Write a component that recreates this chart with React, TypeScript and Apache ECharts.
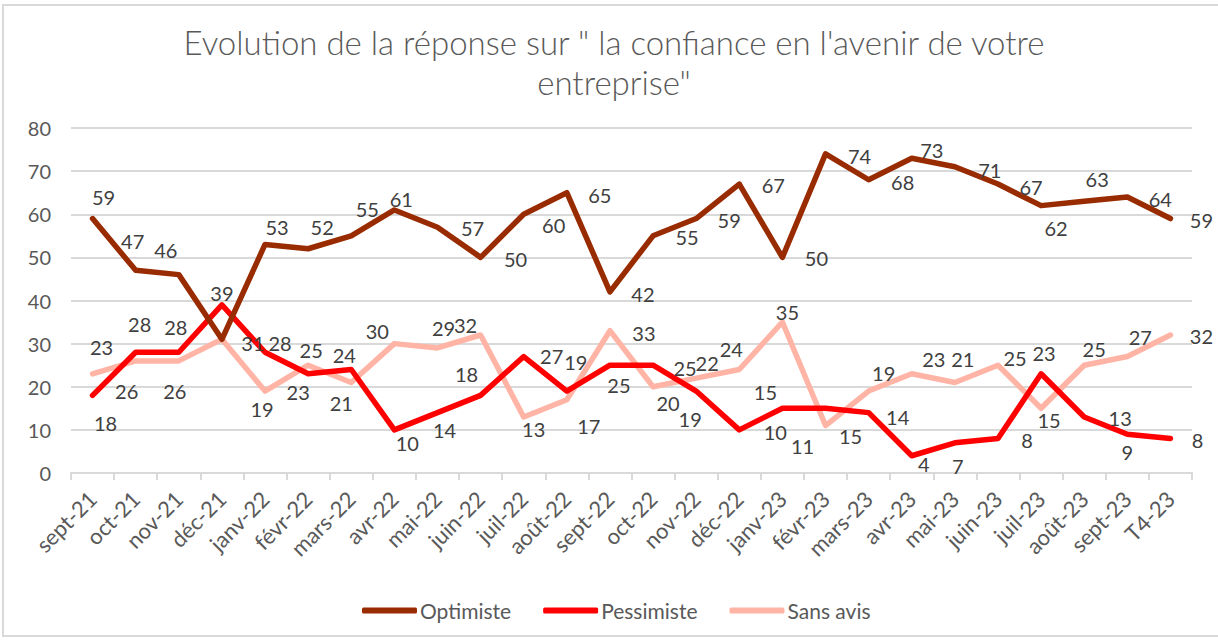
import React, { useEffect, useRef } from "react";
import * as echarts from "echarts";

const categories = [
  "sept-21", "oct-21", "nov-21", "déc-21", "janv-22", "févr-22", "mars-22", "avr-22",
  "mai-22", "juin-22", "juil-22", "août-22", "sept-22", "oct-22", "nov-22", "déc-22",
  "janv-23", "févr-23", "mars-23", "avr-23", "mai-23", "juin-23", "juil-23", "août-23",
  "sept-23", "T4-23",
];

const optimiste = [59, 47, 46, 31, 53, 52, 55, 61, 57, 50, 60, 65, 42, 55, 59, 67, 50, 74, 68, 73, 71, 67, 62, 63, 64, 59];
const pessimiste = [18, 28, 28, 39, 28, 23, 24, 10, 14, 18, 27, 19, 25, 25, 19, 10, 15, 15, 14, 4, 7, 8, 23, 13, 9, 8];
const sansAvis = [23, 26, 26, 31, 19, 25, 21, 30, 29, 32, 13, 17, 33, 20, 22, 24, 35, 11, 19, 23, 21, 25, 15, 25, 27, 32];

const yTicks = { min: 0, max: 80, step: 10 };

const titleText = "Evolution de la réponse sur \" la confiance en l'avenir de votre\nentreprise\"";

// label placement offsets (label centre relative to point), styling only; null = label shared with another series
const optOffsets: (number[] | null)[] = [
  [11, -22], [-3, -29], [-13, -25], [31, 4], [12, -17], [14, -22], [16, -27], [7, -11],
  [35, 1], [35, 2], [30, 11], [33, 2], [33, 2], [34, 1], [33, 1], [34, 1],
  [34, 1], [34, 2], [34, 2], [20, -8], [35, 3], [33, 3], [15, 22], [13, -22],
  [33, 2], [31, 1],
];
const pesOffsets: (number[] | null)[] = [
  [13, 28], [4, -28], [-3, -25], [0, -12], [15, -9], [-10, 18], [-7, -15], [13, 13],
  [7, 17], [-14, -21], [28, -1], [9, -29], [9, 20], [32, 3], [-6, 28], [36, 2],
  [-17, -16], [25, 28], [29, 4], [12, 8], [3, 23], [29, 1], [3, -21], [36, 1],
  [0, 18], [27, 1],
];
const sansOffsets: (number[] | null)[] = [
  [9, -27], [-9, 30], [-4, 30], null, [-3, 18], [3, -15], [-10, 21], [-17, -13],
  [6, -20], [-15, -10], [10, 12], [22, 26], [34, 2], [15, 16], [11, -15], [-8, -21],
  [5, -10], [-23, 20], [15, -18], [22, -15], [8, -23], [17, -7], [8, 12], [10, -16],
  [13, -20], [31, 1],
];

const FONT = "Lato";
const GRAY = "#595959";
const LABEL = "#404040";

function makeData(values: number[], offsets: (number[] | null)[]) {
  return values.map((v, i) => {
    const off = offsets[i];
    return off
      ? { value: v, label: { offset: off } }
      : { value: v, label: { show: false } };
  });
}

function makeSeries(name: string, color: string, values: number[], offsets: (number[] | null)[], z: number) {
  return {
    name,
    type: "line",
    data: makeData(values, offsets),
    symbol: "circle",
    symbolSize: 1,
    showSymbol: true,
    z,
    itemStyle: { color },
    lineStyle: { color, width: 5.5, join: "round", cap: "round" },
    label: {
      show: true,
      position: "inside",
      formatter: "{c}",
      color: LABEL,
      fontSize: 20,
      fontFamily: FONT,
    },
    emphasis: { disabled: true },
  };
}

export default function App() {
  const ref = useRef<HTMLDivElement>(null);
  useEffect(() => {
    if (!ref.current) return;
    const chart = echarts.init(ref.current, undefined, { renderer: "svg" });
    chart.setOption({
      animation: false,
      backgroundColor: "#ffffff",
      textStyle: { fontFamily: FONT },
      graphic: [
        {
          type: "rect",
          shape: { x: 3, y: 5, width: 1240, height: 631 },
          style: { fill: "none", stroke: "#d9d9d9", lineWidth: 2 },
          silent: true,
        },
        {
          type: "text",
          x: 614,
          y: 62,
          style: {
            text: titleText,
            fontSize: 33,
            lineHeight: 40,
            fontWeight: 300,
            fontFamily: FONT,
            fill: GRAY,
            align: "center",
            verticalAlign: "middle",
          },
        },
      ],
      grid: { left: 71, right: 26, top: 128, bottom: 167, containLabel: false },
      legend: {
        left: 357,
        top: 595,
        itemWidth: 55,
        itemHeight: 6,
        itemGap: 32,
        icon: "roundRect",
        textStyle: { color: GRAY, fontSize: 21, fontFamily: FONT, padding: [0, 0, 0, -2] },
        data: ["Optimiste", "Pessimiste", "Sans avis"],
      },
      xAxis: {
        type: "category",
        data: categories,
        boundaryGap: true,
        axisLine: { lineStyle: { color: "#d9d9d9", width: 2 } },
        axisTick: { show: true, length: 7, lineStyle: { color: "#d9d9d9", width: 2 } },
        axisLabel: {
          interval: 0,
          rotate: 45,
          color: GRAY,
          fontSize: 22,
          fontFamily: FONT,
          margin: 22,
        },
      },
      yAxis: {
        type: "value",
        min: yTicks.min,
        max: yTicks.max,
        interval: yTicks.step,
        axisLine: { show: false },
        axisTick: { show: false },
        splitLine: { lineStyle: { color: "#d9d9d9", width: 2 } },
        axisLabel: { color: GRAY, fontSize: 20, fontFamily: FONT, margin: 20 },
      },
      series: [
        makeSeries("Optimiste", "#992B00", optimiste, optOffsets, 3),
        makeSeries("Pessimiste", "#FF0000", pessimiste, pesOffsets, 2),
        makeSeries("Sans avis", "#FFB4A6", sansAvis, sansOffsets, 1),
      ],
    });
    return () => chart.dispose();
  }, []);
  return (
    <div
      ref={ref}
      style={{ position: "fixed", left: 0, top: 0, width: 1218, height: 640 }}
    />
  );
}
